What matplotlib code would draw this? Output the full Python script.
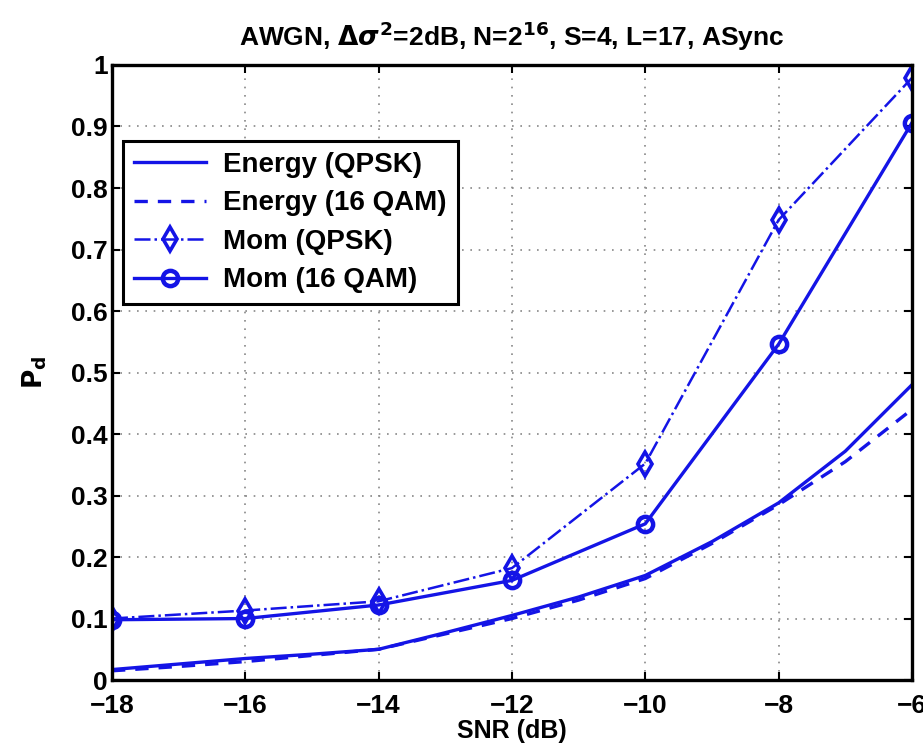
import numpy as np
import matplotlib.pyplot as plt

# SNR grid
snr = [-18, -17, -16, -15, -14, -13, -12, -11, -10, -9, -8, -7, -6]
snr_mom = [-18, -16, -14, -12, -10, -8, -6]

energy_qpsk = [0.017, 0.026, 0.035, 0.042, 0.050, 0.077, 0.105, 0.135, 0.170, 0.225, 0.288, 0.372, 0.480]
energy_16qam = [0.015, 0.022, 0.030, 0.040, 0.050, 0.075, 0.100, 0.130, 0.165, 0.222, 0.285, 0.355, 0.440]
mom_qpsk = [0.100, 0.113, 0.128, 0.182, 0.352, 0.748, 0.979]
mom_16qam = [0.098, 0.100, 0.122, 0.162, 0.254, 0.546, 0.906]

labels = ['Energy (QPSK)', 'Energy (16 QAM)', 'Mom (QPSK)', 'Mom (16 QAM)']
blue = '#1414e6'

plt.rcParams['font.family'] = ['Liberation Sans', 'DejaVu Sans']
plt.rcParams['font.weight'] = 'bold'

fig = plt.figure(figsize=(9.23, 7.54), dpi=100)
ax = fig.add_axes([0.1213, 0.0981, 0.8667, 0.8157])

ax.plot(snr, energy_qpsk, '-', color=blue, lw=2.4, label=labels[0])
ax.plot(snr, energy_16qam, '--', color=blue, lw=2.4, dashes=(4, 3), label=labels[1])
ax.plot(snr_mom, mom_qpsk, '-.', color=blue, lw=1.8, marker='d', ms=12,
        mfc='none', mew=2.6, label=labels[2])
ax.plot(snr_mom, mom_16qam, '-', color=blue, lw=2.4, marker='o', ms=11,
        mfc='none', mew=3.2, label=labels[3])

ax.set_xlim(-18, -6)
ax.set_ylim(0, 1)
ax.set_xticks(np.arange(-18, -5, 2))
ax.set_yticks(np.arange(0, 1.01, 0.1))
ax.set_yticklabels(['0', '0.1', '0.2', '0.3', '0.4', '0.5', '0.6', '0.7', '0.8', '0.9', '1'])
ax.set_xticklabels(['\u221218', '\u221216', '\u221214', '\u221212', '\u221210', '\u22128', '\u22126'])
ax.tick_params(direction='in', top=True, right=True, length=6, width=1.5, labelsize=19)
ax.tick_params(axis='x', pad=10)
ax.tick_params(axis='y', pad=3)
for s in ax.spines.values():
    s.set_linewidth(2.4)
ax.grid(True, linestyle=(0, (1, 4)), color='#888888', lw=1.2)

ax.set_xlabel('SNR (dB)', fontsize=18, fontweight='bold', labelpad=1)
ax.set_ylabel(r'$\mathbf{P_d}$', fontsize=19, labelpad=16)
ax.set_title(r'AWGN, $\Delta\sigma^2$=2dB, N=2$^{\mathbf{16}}$, S=4, L=17, ASync',
             fontsize=19, fontweight='bold', pad=14)

leg = ax.legend(loc='upper left', bbox_to_anchor=(0.0, 0.895), fontsize=20,
                fancybox=False, edgecolor='black', framealpha=1, handlelength=2.6,
                borderpad=0.4, labelspacing=0.45, handletextpad=0.6,
                borderaxespad=0.4)
leg.get_frame().set_linewidth(2.2)

fig.savefig('out.png', dpi=100)
